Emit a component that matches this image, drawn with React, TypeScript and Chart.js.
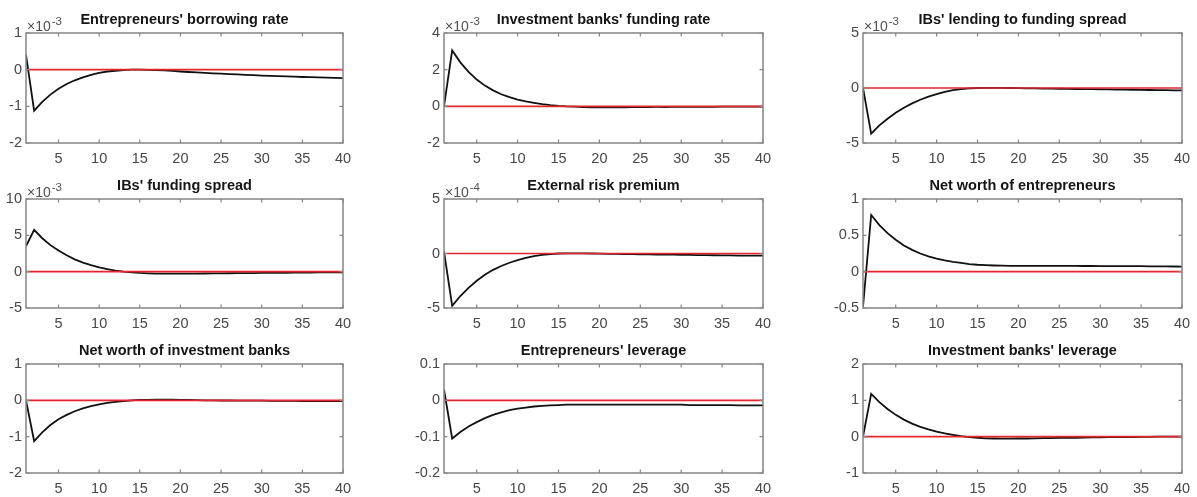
import React, { useEffect, useRef } from "react";
import { Chart, registerables } from "chart.js";

Chart.register(...registerables);

// ---------- data ----------
const PERIODS = [1, 2, 3, 4, 5, 6, 7, 8, 9, 10, 11, 12, 13, 14, 15, 16, 17, 18, 19, 20, 21, 22, 23, 24, 25, 26, 27, 28, 29, 30, 31, 32, 33, 34, 35, 36, 37, 38, 39, 40];
const X_TICKS = [5, 10, 15, 20, 25, 30, 35, 40];

const TITLES = [
  "Entrepreneurs' borrowing rate",
  "Investment banks' funding rate",
  "IBs' lending to funding spread",
  "IBs' funding spread",
  "External risk premium",
  "Net worth of entrepreneurs",
  "Net worth of investment banks",
  "Entrepreneurs' leverage",
  "Investment banks' leverage",
];
const EXPONENTS = ["-3", "-3", "-3", "-3", "-4", "", "", "", ""];

// values in plotted units (x10^-3 / x10^-4 where indicated)
const entBorrowingRate = [0.4, -1.12, -0.88, -0.68, -0.52, -0.39, -0.29, -0.21, -0.14, -0.09, -0.05, -0.03, -0.01, 0.0, 0.0, -0.005, -0.01, -0.02, -0.035, -0.05, -0.063, -0.075, -0.087, -0.099, -0.11, -0.12, -0.13, -0.14, -0.15, -0.16, -0.168, -0.176, -0.184, -0.192, -0.2, -0.206, -0.212, -0.218, -0.224, -0.23];
const ibFundingRate = [0.0, 3.05, 2.4, 1.88, 1.46, 1.13, 0.87, 0.66, 0.5, 0.37, 0.27, 0.19, 0.12, 0.07, 0.03, 0.0, -0.02, -0.04, -0.05, -0.05, -0.05, -0.05, -0.05, -0.045, -0.04, -0.04, -0.035, -0.035, -0.03, -0.03, -0.03, -0.025, -0.025, -0.025, -0.02, -0.02, -0.02, -0.02, -0.02, -0.02];
const ibLendingSpread = [0.0, -4.15, -3.4, -2.8, -2.25, -1.8, -1.4, -1.07, -0.78, -0.55, -0.35, -0.2, -0.1, -0.03, 0.0, 0.02, 0.02, 0.01, 0.0, -0.02, -0.03, -0.04, -0.05, -0.06, -0.07, -0.08, -0.09, -0.1, -0.11, -0.12, -0.13, -0.14, -0.15, -0.16, -0.17, -0.18, -0.19, -0.2, -0.21, -0.22];
const ibFundingSpread = [3.5, 5.75, 4.6, 3.65, 2.9, 2.25, 1.7, 1.25, 0.9, 0.6, 0.35, 0.15, 0.0, -0.1, -0.18, -0.23, -0.26, -0.28, -0.28, -0.28, -0.27, -0.26, -0.25, -0.24, -0.23, -0.22, -0.21, -0.2, -0.19, -0.18, -0.17, -0.16, -0.15, -0.14, -0.13, -0.12, -0.11, -0.1, -0.1, -0.1];
const extRiskPremium = [0.2, -4.8, -3.9, -3.15, -2.5, -1.95, -1.5, -1.15, -0.85, -0.6, -0.4, -0.25, -0.13, -0.05, 0.0, 0.02, 0.02, 0.01, 0.0, -0.02, -0.03, -0.04, -0.05, -0.06, -0.07, -0.08, -0.09, -0.1, -0.11, -0.12, -0.13, -0.14, -0.15, -0.16, -0.17, -0.18, -0.19, -0.2, -0.2, -0.2];
const entNetWorth = [-0.48, 0.78, 0.64, 0.53, 0.44, 0.36, 0.3, 0.25, 0.21, 0.18, 0.155, 0.135, 0.12, 0.105, 0.095, 0.09, 0.085, 0.082, 0.08, 0.08, 0.08, 0.08, 0.08, 0.08, 0.08, 0.079, 0.079, 0.078, 0.078, 0.077, 0.077, 0.076, 0.076, 0.075, 0.075, 0.074, 0.073, 0.072, 0.071, 0.07];
const ibNetWorth = [0.0, -1.12, -0.88, -0.68, -0.52, -0.4, -0.3, -0.22, -0.16, -0.11, -0.07, -0.04, -0.02, 0.0, 0.01, 0.015, 0.02, 0.02, 0.02, 0.015, 0.01, 0.005, 0.0, 0.0, -0.005, -0.005, -0.01, -0.01, -0.01, -0.01, -0.015, -0.015, -0.015, -0.015, -0.02, -0.02, -0.02, -0.02, -0.02, -0.02];
const entLeverage = [0.03, -0.105, -0.087, -0.072, -0.06, -0.049, -0.04, -0.033, -0.027, -0.023, -0.02, -0.017, -0.015, -0.014, -0.013, -0.012, -0.012, -0.012, -0.012, -0.012, -0.012, -0.012, -0.012, -0.012, -0.012, -0.012, -0.012, -0.012, -0.012, -0.012, -0.013, -0.013, -0.013, -0.013, -0.013, -0.013, -0.014, -0.014, -0.014, -0.014];
const ibLeverage = [0.0, 1.18, 0.95, 0.76, 0.6, 0.47, 0.36, 0.27, 0.2, 0.14, 0.09, 0.05, 0.015, -0.01, -0.03, -0.045, -0.05, -0.055, -0.055, -0.05, -0.05, -0.045, -0.04, -0.04, -0.035, -0.03, -0.03, -0.025, -0.02, -0.02, -0.015, -0.015, -0.01, -0.01, -0.005, -0.005, 0.0, 0.0, 0.0, 0.0];
const zeroLine = [0, 0, 0, 0, 0, 0, 0, 0, 0, 0, 0, 0, 0, 0, 0, 0, 0, 0, 0, 0, 0, 0, 0, 0, 0, 0, 0, 0, 0, 0, 0, 0, 0, 0, 0, 0, 0, 0, 0, 0];

const SERIES = [entBorrowingRate, ibFundingRate, ibLendingSpread, ibFundingSpread, extRiskPremium, entNetWorth, ibNetWorth, entLeverage, ibLeverage];

const Y_TICKS = [
  [-2, -1, 0, 1],
  [-2, 0, 2, 4],
  [-5, 0, 5],
  [-5, 0, 5, 10],
  [-5, 0, 5],
  [-0.5, 0, 0.5, 1],
  [-2, -1, 0, 1],
  [-0.2, -0.1, 0, 0.1],
  [-1, 0, 1, 2],
];

// ---------- layout / style ----------
const PLOT_LEFT = [26, 444, 863];
const PLOT_W = [317, 319, 319];
const PLOT_TOP = [33, 199, 364];
const PLOT_H = [110, 109, 109];

const YW = 50;
const TP = 34;
const RP = 20;
const XH = 26;

const FONT = "'Liberation Sans', Arial, Helvetica, sans-serif";
const TICK_COLOR = "#474747";
const BOX_COLOR = "#858585";
const RED = "#e3272c";

Chart.defaults.font.family = FONT;

const framePlugin = {
  id: "frame",
  afterDatasetsDraw(chart: any, _args: any, opts: any) {
    const { ctx, chartArea: a, scales } = chart;
    ctx.save();
    ctx.strokeStyle = BOX_COLOR;
    ctx.lineWidth = 1.5;
    ctx.strokeRect(a.left, a.top, a.right - a.left, a.bottom - a.top);
    const TL = 3.5;
    ctx.lineWidth = 1.2;
    ctx.beginPath();
    for (const t of scales.x.ticks) {
      const x = scales.x.getPixelForValue(t.value);
      ctx.moveTo(x, a.bottom);
      ctx.lineTo(x, a.bottom - TL);
      ctx.moveTo(x, a.top);
      ctx.lineTo(x, a.top + TL);
    }
    for (const t of scales.y.ticks) {
      const y = scales.y.getPixelForValue(t.value);
      ctx.moveTo(a.left, y);
      ctx.lineTo(a.left + TL, y);
      ctx.moveTo(a.right, y);
      ctx.lineTo(a.right - TL, y);
    }
    ctx.stroke();

    // title
    ctx.fillStyle = "#151515";
    ctx.font = `bold 14.5px ${FONT}`;
    ctx.textAlign = "center";
    ctx.textBaseline = "alphabetic";
    ctx.fillText(opts.title, (a.left + a.right) / 2, a.top - 9);

    // exponent
    if (opts.exp) {
      ctx.fillStyle = "#505050";
      ctx.textAlign = "left";
      ctx.font = `14px ${FONT}`;
      const base = "\u00d710";
      ctx.fillText(base, a.left + 1, a.top - 2);
      const w = ctx.measureText(base).width;
      ctx.font = `11.5px ${FONT}`;
      ctx.fillText(opts.exp, a.left + 1 + w + 1, a.top - 8);
    }
    ctx.restore();
  },
};

function Panel({ idx }: { idx: number }) {
  const ref = useRef<HTMLCanvasElement>(null);
  const col = idx % 3;
  const row = Math.floor(idx / 3);
  const w = PLOT_W[col];
  const h = PLOT_H[row];
  const yt = Y_TICKS[idx];

  useEffect(() => {
    if (!ref.current) return;
    const chart = new Chart(ref.current, {
      type: "line",
      data: {
        labels: PERIODS,
        datasets: [
          {
            data: zeroLine,
            borderColor: RED,
            borderWidth: 1.6,
            pointRadius: 0,
            tension: 0,
          },
          {
            data: SERIES[idx],
            borderColor: "#111111",
            borderWidth: 1.8,
            pointRadius: 0,
            tension: 0,
          },
        ],
      },
      options: {
        responsive: false,
        animation: false,
        devicePixelRatio: 1,
        events: [],
        layout: { padding: { top: TP, right: RP, left: 0, bottom: 0 } },
        plugins: {
          legend: { display: false },
          tooltip: { enabled: false },
          title: { display: false },
          frame: { title: TITLES[idx], exp: EXPONENTS[idx] },
        } as any,
        scales: {
          x: {
            type: "linear",
            min: 1,
            max: 40,
            grid: { display: false, drawTicks: false },
            border: { display: false },
            ticks: {
              autoSkip: false,
              maxRotation: 0,
              padding: 7,
              color: TICK_COLOR,
              font: { size: 14.5 },
              callback: (v: any) => String(v),
            },
            afterBuildTicks: (s: any) => {
              s.ticks = X_TICKS.map((v) => ({ value: v }));
            },
            afterFit: (s: any) => {
              s.height = XH;
            },
          },
          y: {
            type: "linear",
            min: yt[0],
            max: yt[yt.length - 1],
            grid: { display: false, drawTicks: false },
            border: { display: false },
            ticks: {
              autoSkip: false,
              padding: 4,
              color: TICK_COLOR,
              font: { size: 14.5 },
              callback: (v: any) => String(v),
            },
            afterBuildTicks: (s: any) => {
              s.ticks = yt.map((v) => ({ value: v }));
            },
            afterFit: (s: any) => {
              s.width = YW;
            },
          },
        },
      } as any,
      plugins: [framePlugin],
    });
    return () => chart.destroy();
  }, [idx]);

  return (
    <canvas
      ref={ref}
      width={YW + w + RP}
      height={TP + h + XH}
      style={{
        position: "absolute",
        left: PLOT_LEFT[col] - YW,
        top: PLOT_TOP[row] - TP,
        width: YW + w + RP,
        height: TP + h + XH,
      }}
    />
  );
}

export default function App() {
  return (
    <div
      style={{
        position: "fixed",
        left: 0,
        top: 0,
        width: 1197,
        height: 497,
        background: "#ffffff",
        overflow: "hidden",
      }}
    >
      {TITLES.map((_, i) => (
        <Panel key={i} idx={i} />
      ))}
    </div>
  );
}
